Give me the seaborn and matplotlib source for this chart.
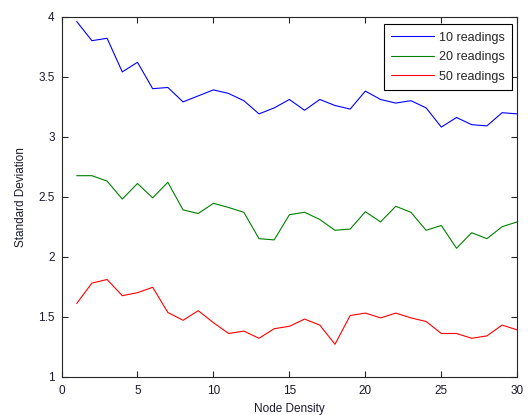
import matplotlib
matplotlib.use("Agg")
import matplotlib.pyplot as plt
import seaborn as sns
import pandas as pd
import numpy as np

node_density = list(range(1, 31))
std_10 = [3.96, 3.80, 3.82, 3.54, 3.62, 3.40, 3.41, 3.29, 3.34, 3.39,
          3.36, 3.30, 3.19, 3.24, 3.31, 3.22, 3.31, 3.26, 3.23, 3.38,
          3.31, 3.28, 3.30, 3.24, 3.08, 3.16, 3.10, 3.09, 3.20, 3.19]
std_20 = [2.675, 2.675, 2.63, 2.48, 2.61, 2.49, 2.62, 2.39, 2.36, 2.445,
          2.41, 2.37, 2.15, 2.14, 2.35, 2.37, 2.31, 2.22, 2.23, 2.375,
          2.29, 2.42, 2.37, 2.22, 2.26, 2.07, 2.20, 2.15, 2.25, 2.29]
std_50 = [1.61, 1.78, 1.81, 1.675, 1.70, 1.745, 1.535, 1.47, 1.55, 1.45,
          1.36, 1.38, 1.32, 1.40, 1.42, 1.48, 1.43, 1.27, 1.51, 1.53,
          1.49, 1.53, 1.49, 1.46, 1.36, 1.36, 1.32, 1.34, 1.43, 1.39]
series_labels = ["10 readings", "20 readings", "50 readings"]
colors = ["#0000ff", "#008000", "#ff0000"]

df = pd.DataFrame({
    "Node Density": node_density * 3,
    "Standard Deviation": std_10 + std_20 + std_50,
    "series": [series_labels[0]] * 30 + [series_labels[1]] * 30 + [series_labels[2]] * 30,
})

sns.set_style("ticks")
plt.rcParams["font.family"] = ["Liberation Sans", "DejaVu Sans"]
plt.rcParams["xtick.direction"] = "in"
plt.rcParams["ytick.direction"] = "in"

fig = plt.figure(figsize=(5.28, 4.15), dpi=100)
ax = fig.add_axes([0.1165, 0.0923, 0.9797 - 0.1165, 0.9598 - 0.0923])

sns.lineplot(data=df, x="Node Density", y="Standard Deviation", hue="series",
             palette=colors, linewidth=0.8, ax=ax)

ax.set_xlim(0, 30)
ax.set_ylim(1, 4)
ax.set_xticks(np.arange(0, 31, 5))
ax.set_yticks(np.arange(1, 4.01, 0.5))
ax.set_yticklabels(["1", "1.5", "2", "2.5", "3", "3.5", "4"])
ax.tick_params(axis="both", which="both", direction="in", top=True, right=True,
               length=4, width=0.8, labelsize=8.5, colors="#262626", labelcolor="#1a1a2e")
ax.tick_params(axis="x", pad=6)
ax.tick_params(axis="y", pad=5)
for s in ax.spines.values():
    s.set_visible(True)
    s.set_linewidth(0.8)
    s.set_color("#262626")
ax.set_xlabel("Node Density", fontsize=8.5, color="#1a1a2e", labelpad=4)
ax.set_ylabel("Standard Deviation", fontsize=8.5, color="#1a1a2e", labelpad=8)

leg = ax.legend(loc="upper right", fontsize=9, frameon=True, fancybox=False,
                edgecolor="black", borderaxespad=0, handlelength=3.4,
                borderpad=0.6, labelspacing=0.6, handletextpad=0.4,
                bbox_to_anchor=(0.989, 0.979))
leg.get_frame().set_linewidth(0.8)
leg.get_frame().set_alpha(1)

fig.savefig("out.png", dpi=100)
